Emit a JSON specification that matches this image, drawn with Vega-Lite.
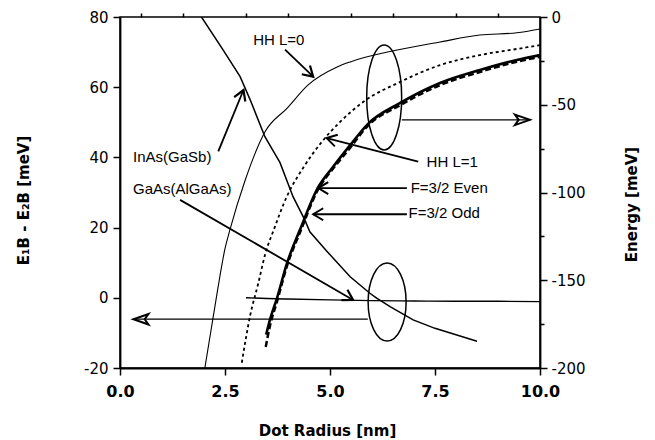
{
  "$schema": "https://vega.github.io/schema/vega-lite/v6.json",
  "width": 420,
  "height": 351,
  "autosize": {"type": "none"},
  "padding": {"left": 120, "top": 17, "right": 115, "bottom": 72},
  "background": "white",
  "config": {
    "view": {"stroke": "black", "strokeWidth": 1.5},
    "axis": {"grid": false, "domainColor": "black", "domainWidth": 1.8, "tickColor": "black", "tickWidth": 1.5, "labelColor": "black", "titleColor": "black", "labelOverlap": false, "labelBound": false, "labelFlush": false}
  },
  "datasets": {
    "diff": [
      {"series": "InAs(GaSb)", "r": 1.94, "d": 80}, {"series": "InAs(GaSb)", "r": 2.45, "d": 70.7}, {"series": "InAs(GaSb)", "r": 2.86, "d": 63}, {"series": "InAs(GaSb)", "r": 3.1, "d": 56.4}, {"series": "InAs(GaSb)", "r": 3.45, "d": 45.9}, {"series": "InAs(GaSb)", "r": 3.81, "d": 38.5}, {"series": "InAs(GaSb)", "r": 4.12, "d": 28.8}, {"series": "InAs(GaSb)", "r": 4.4, "d": 22.2}, {"series": "InAs(GaSb)", "r": 4.52, "d": 18.8}, {"series": "InAs(GaSb)", "r": 4.93, "d": 13.2}, {"series": "InAs(GaSb)", "r": 5.48, "d": 6}, {"series": "InAs(GaSb)", "r": 5.95, "d": 1.3}, {"series": "InAs(GaSb)", "r": 6.11, "d": -0.1}, {"series": "InAs(GaSb)", "r": 6.43, "d": -2.5}, {"series": "InAs(GaSb)", "r": 6.98, "d": -6.3}, {"series": "InAs(GaSb)", "r": 7.5, "d": -8.7}, {"series": "InAs(GaSb)", "r": 8.5, "d": -12.4},
      {"series": "GaAs(AlGaAs)", "r": 3.0, "d": 0}, {"series": "GaAs(AlGaAs)", "r": 3.5, "d": -0.2}, {"series": "GaAs(AlGaAs)", "r": 4, "d": -0.35}, {"series": "GaAs(AlGaAs)", "r": 5, "d": -0.6}, {"series": "GaAs(AlGaAs)", "r": 6, "d": -0.8}, {"series": "GaAs(AlGaAs)", "r": 7, "d": -0.9}, {"series": "GaAs(AlGaAs)", "r": 8, "d": -1.0}, {"series": "GaAs(AlGaAs)", "r": 9, "d": -1.0}, {"series": "GaAs(AlGaAs)", "r": 10, "d": -1.1}
    ],
    "energy": [
      {"series": "HH L=0", "r": 2.02, "E": -200}, {"series": "HH L=0", "r": 2.3, "E": -159}, {"series": "HH L=0", "r": 2.5, "E": -132}, {"series": "HH L=0", "r": 2.62, "E": -121}, {"series": "HH L=0", "r": 2.98, "E": -93}, {"series": "HH L=0", "r": 3.45, "E": -65.5}, {"series": "HH L=0", "r": 3.98, "E": -51.9}, {"series": "HH L=0", "r": 4.48, "E": -38.7}, {"series": "HH L=0", "r": 5.17, "E": -28.5}, {"series": "HH L=0", "r": 5.48, "E": -25.6}, {"series": "HH L=0", "r": 6.6, "E": -18.8}, {"series": "HH L=0", "r": 7.62, "E": -14.2}, {"series": "HH L=0", "r": 8.57, "E": -10.3}, {"series": "HH L=0", "r": 9.45, "E": -9}, {"series": "HH L=0", "r": 10, "E": -6.8},
      {"series": "HH L=1", "r": 2.9, "E": -197}, {"series": "HH L=1", "r": 3.1, "E": -170}, {"series": "HH L=1", "r": 3.29, "E": -152}, {"series": "HH L=1", "r": 3.47, "E": -134}, {"series": "HH L=1", "r": 3.65, "E": -122}, {"series": "HH L=1", "r": 3.97, "E": -102.4}, {"series": "HH L=1", "r": 4.36, "E": -86}, {"series": "HH L=1", "r": 4.81, "E": -71}, {"series": "HH L=1", "r": 5.24, "E": -59.8}, {"series": "HH L=1", "r": 5.79, "E": -48.4}, {"series": "HH L=1", "r": 6.67, "E": -37}, {"series": "HH L=1", "r": 7.62, "E": -27.4}, {"series": "HH L=1", "r": 8.57, "E": -21.7}, {"series": "HH L=1", "r": 9.45, "E": -18.2}, {"series": "HH L=1", "r": 10, "E": -16},
      {"series": "F=3/2 Even", "r": 3.48, "E": -181}, {"series": "F=3/2 Even", "r": 3.57, "E": -172.6}, {"series": "F=3/2 Even", "r": 3.74, "E": -160}, {"series": "F=3/2 Even", "r": 3.98, "E": -140}, {"series": "F=3/2 Even", "r": 4.29, "E": -121}, {"series": "F=3/2 Even", "r": 4.71, "E": -97.4}, {"series": "F=3/2 Even", "r": 5.07, "E": -85.5}, {"series": "F=3/2 Even", "r": 5.48, "E": -73}, {"series": "F=3/2 Even", "r": 5.9, "E": -61}, {"series": "F=3/2 Even", "r": 6.67, "E": -49}, {"series": "F=3/2 Even", "r": 7.62, "E": -37.6}, {"series": "F=3/2 Even", "r": 8.57, "E": -30.2}, {"series": "F=3/2 Even", "r": 9.45, "E": -24.5}, {"series": "F=3/2 Even", "r": 10, "E": -21.7},
      {"series": "F=3/2 Odd", "r": 3.47, "E": -188}, {"series": "F=3/2 Odd", "r": 3.57, "E": -176}, {"series": "F=3/2 Odd", "r": 3.74, "E": -162}, {"series": "F=3/2 Odd", "r": 3.98, "E": -141.5}, {"series": "F=3/2 Odd", "r": 4.29, "E": -122.5}, {"series": "F=3/2 Odd", "r": 4.71, "E": -98.5}, {"series": "F=3/2 Odd", "r": 5.07, "E": -86.5}, {"series": "F=3/2 Odd", "r": 5.48, "E": -74.5}, {"series": "F=3/2 Odd", "r": 5.9, "E": -62}, {"series": "F=3/2 Odd", "r": 6.67, "E": -50.3}, {"series": "F=3/2 Odd", "r": 7.62, "E": -38.8}, {"series": "F=3/2 Odd", "r": 8.57, "E": -31.3}, {"series": "F=3/2 Odd", "r": 9.45, "E": -25.5}, {"series": "F=3/2 Odd", "r": 10, "E": -22.7}
    ],
    "notes": [
      {"label": "HH L=0", "x": 3.17, "y": 73.5},
      {"label": "InAs(GaSb)", "x": 0.31, "y": 40.2},
      {"label": "GaAs(AlGaAs)", "x": 0.31, "y": 31.0},
      {"label": "HH L=1", "x": 7.3, "y": 38.7},
      {"label": "F=3/2  Even", "x": 6.92, "y": 31.3},
      {"label": "F=3/2  Odd", "x": 6.87, "y": 24.2}
    ],
    "arrows": [
      {"id": "hh0", "x": 3.93, "y": 70.7, "x2": 4.6, "y2": 63.0},
      {"id": "inas", "x": 2.34, "y": 41.7, "x2": 2.94, "y2": 59.2},
      {"id": "gaas", "x": 1.43, "y": 27.9, "x2": 5.55, "y2": -0.6},
      {"id": "hh1", "x": 7.1, "y": 38.8, "x2": 4.92, "y2": 45.5},
      {"id": "even", "x": 6.83, "y": 31.25, "x2": 4.72, "y2": 31.25},
      {"id": "odd", "x": 6.83, "y": 23.8, "x2": 4.6, "y2": 23.8},
      {"id": "up", "x": 6.71, "y": 50.7, "x2": 9.76, "y2": 50.7},
      {"id": "down", "x": 5.9, "y": -6.1, "x2": 0.32, "y2": -6.1}
    ],
    "ellipses": [
      {"id": "upper", "x": 6.29, "y": 57.1},
      {"id": "lower", "x": 6.36, "y": -1.2}
    ]
  },
  "resolve": {"scale": {"y": "independent"}, "axis": {"x": "independent"}},
  "layer": [
    {
      "layer": [
        {
          "data": {"name": "diff"},
          "transform": [{"filter": "datum.series === 'InAs(GaSb)'"}],
          "mark": {"type": "line", "color": "black", "strokeWidth": 1.5, "clip": true},
          "encoding": {
            "x": {"field": "r", "type": "quantitative", "scale": {"domain": [0, 10], "nice": false},
              "axis": {"values": [0, 2.5, 5, 7.5, 10],
                "format": ".1f",
                "tickSize": 7,
                "labelFont": "DejaVu Sans", "labelFontWeight": "bold", "labelFontSize": 16, "labelPadding": 8,
                "title": "Dot  Radius  [nm]", "titleFont": "DejaVu Sans", "titleFontWeight": "bold", "titleFontSize": 15,
                "titleX": 207, "titleY": 62, "titleAlign": "center", "titleBaseline": "middle"}},
            "y": {"field": "d", "type": "quantitative", "scale": {"domain": [-20, 80], "nice": false},
              "axis": {"orient": "left", "values": [-20, -10, 0, 10, 20, 30, 40, 50, 60, 70, 80],
                "labelExpr": "datum.value % 20 === 0 ? '' + datum.value : ''",
                "tickSize": {"condition": {"test": "datum.value % 20 === 0", "value": 7}, "value": 4},
                "labelFont": "DejaVu Sans", "labelFontSize": 15, "labelPadding": 5,
                "title": "E₁B - E₂B   [meV]", "titleFont": "DejaVu Sans", "titleFontWeight": "bold", "titleFontSize": 15,
                "titleAngle": 270, "titleX": -97, "titleY": 183, "titleAlign": "center", "titleBaseline": "middle"}}
          }
        },
        {
          "data": {"name": "diff"},
          "transform": [{"filter": "datum.series === 'GaAs(AlGaAs)'"}],
          "mark": {"type": "line", "color": "black", "strokeWidth": 1.4, "clip": true, "interpolate": "monotone"},
          "encoding": {
            "x": {"field": "r", "type": "quantitative", "scale": {"domain": [0, 10], "nice": false}},
            "y": {"field": "d", "type": "quantitative", "scale": {"domain": [-20, 80], "nice": false}}
          }
        },
        {
          "mark": {"type": "rule", "color": "black", "strokeWidth": 1.3, "strokeDash": [7, 4]},
          "encoding": {"y": {"datum": 0, "type": "quantitative", "scale": {"domain": [-20, 80], "nice": false}}}
        },
        {
          "data": {"name": "notes"},
          "mark": {"type": "text", "align": "left", "baseline": "middle", "font": "Liberation Sans", "fontSize": 15, "color": "black"},
          "encoding": {
            "x": {"field": "x", "type": "quantitative", "scale": {"domain": [0, 10], "nice": false}},
            "y": {"field": "y", "type": "quantitative", "scale": {"domain": [-20, 80], "nice": false}},
            "text": {"field": "label"}
          }
        },
        {
          "data": {"name": "arrows"},
          "transform": [{"filter": "datum.id !== 'up' && datum.id !== 'down'"}],
          "mark": {"type": "rule", "color": "black", "strokeWidth": 1.8},
          "encoding": {
            "x": {"field": "x", "type": "quantitative", "scale": {"domain": [0, 10], "nice": false}},
            "y": {"field": "y", "type": "quantitative", "scale": {"domain": [-20, 80], "nice": false}},
            "x2": {"field": "x2"},
            "y2": {"field": "y2"}
          }
        },
        {
          "data": {"name": "arrows"},
          "transform": [{"filter": "datum.id === 'up' || datum.id === 'down'"}],
          "mark": {"type": "rule", "color": "black", "strokeWidth": 1.3},
          "encoding": {
            "x": {"field": "x", "type": "quantitative", "scale": {"domain": [0, 10], "nice": false}},
            "y": {"field": "y", "type": "quantitative", "scale": {"domain": [-20, 80], "nice": false}},
            "x2": {"field": "x2"},
            "y2": {"field": "y2"}
          }
        },
        {
          "data": {"name": "arrows"},
          "transform": [{"filter": "datum.id === 'even' || datum.id === 'odd'"}],
          "mark": {"type": "point", "shape": "M-1,-0.6L0,0L-1,0.6", "size": 400, "filled": false, "stroke": "black", "strokeWidth": 2, "angle": 180, "opacity": 1},
          "encoding": {
            "x": {"field": "x2", "type": "quantitative", "scale": {"domain": [0, 10], "nice": false}},
            "y": {"field": "y2", "type": "quantitative", "scale": {"domain": [-20, 80], "nice": false}}
          }
        },
        {
          "data": {"name": "arrows"},
          "transform": [{"filter": "datum.id === 'hh0'"}],
          "mark": {"type": "point", "shape": "M-1,-0.6L0,0L-1,0.6", "size": 400, "filled": false, "stroke": "black", "strokeWidth": 2.2, "angle": 43, "opacity": 1},
          "encoding": {
            "x": {"field": "x2", "type": "quantitative", "scale": {"domain": [0, 10], "nice": false}},
            "y": {"field": "y2", "type": "quantitative", "scale": {"domain": [-20, 80], "nice": false}}
          }
        },
        {
          "data": {"name": "arrows"},
          "transform": [{"filter": "datum.id === 'inas'"}],
          "mark": {"type": "point", "shape": "M-1,-0.6L0,0L-1,0.6", "size": 400, "filled": false, "stroke": "black", "strokeWidth": 2.2, "angle": 292, "opacity": 1},
          "encoding": {
            "x": {"field": "x2", "type": "quantitative", "scale": {"domain": [0, 10], "nice": false}},
            "y": {"field": "y2", "type": "quantitative", "scale": {"domain": [-20, 80], "nice": false}}
          }
        },
        {
          "data": {"name": "arrows"},
          "transform": [{"filter": "datum.id === 'gaas'"}],
          "mark": {"type": "point", "shape": "M-1,-0.6L0,0L-1,0.6", "size": 400, "filled": false, "stroke": "black", "strokeWidth": 2.2, "angle": 30, "opacity": 1},
          "encoding": {
            "x": {"field": "x2", "type": "quantitative", "scale": {"domain": [0, 10], "nice": false}},
            "y": {"field": "y2", "type": "quantitative", "scale": {"domain": [-20, 80], "nice": false}}
          }
        },
        {
          "data": {"name": "arrows"},
          "transform": [{"filter": "datum.id === 'hh1'"}],
          "mark": {"type": "point", "shape": "M-1,-0.6L0,0L-1,0.6", "size": 400, "filled": false, "stroke": "black", "strokeWidth": 2, "angle": 194, "opacity": 1},
          "encoding": {
            "x": {"field": "x2", "type": "quantitative", "scale": {"domain": [0, 10], "nice": false}},
            "y": {"field": "y2", "type": "quantitative", "scale": {"domain": [-20, 80], "nice": false}}
          }
        },
        {
          "data": {"name": "arrows"},
          "transform": [{"filter": "datum.id === 'up'"}],
          "mark": {"type": "point", "shape": "M-1,-0.35L0,0L-1,0.35L-0.75,0Z", "size": 900, "filled": false, "stroke": "black", "strokeWidth": 2, "angle": 0, "opacity": 1},
          "encoding": {
            "x": {"field": "x2", "type": "quantitative", "scale": {"domain": [0, 10], "nice": false}},
            "y": {"field": "y2", "type": "quantitative", "scale": {"domain": [-20, 80], "nice": false}}
          }
        },
        {
          "data": {"name": "arrows"},
          "transform": [{"filter": "datum.id === 'down'"}],
          "mark": {"type": "point", "shape": "M-1,-0.35L0,0L-1,0.35L-0.75,0Z", "size": 900, "filled": false, "stroke": "black", "strokeWidth": 2, "angle": 180, "opacity": 1},
          "encoding": {
            "x": {"field": "x2", "type": "quantitative", "scale": {"domain": [0, 10], "nice": false}},
            "y": {"field": "y2", "type": "quantitative", "scale": {"domain": [-20, 80], "nice": false}}
          }
        },
        {
          "data": {"name": "ellipses"},
          "transform": [{"filter": "datum.id === 'upper'"}],
          "mark": {"type": "point", "shape": "M0,-1A0.333,1 0 1,1 0,1A0.333,1 0 1,1 0,-1Z", "size": 11025, "filled": false, "stroke": "black", "strokeWidth": 1.5, "opacity": 1},
          "encoding": {
            "x": {"field": "x", "type": "quantitative", "scale": {"domain": [0, 10], "nice": false}},
            "y": {"field": "y", "type": "quantitative", "scale": {"domain": [-20, 80], "nice": false}}
          }
        },
        {
          "data": {"name": "ellipses"},
          "transform": [{"filter": "datum.id === 'lower'"}],
          "mark": {"type": "point", "shape": "M0,-1A0.487,1 0 1,1 0,1A0.487,1 0 1,1 0,-1Z", "size": 6084, "filled": false, "stroke": "black", "strokeWidth": 1.5, "opacity": 1},
          "encoding": {
            "x": {"field": "x", "type": "quantitative", "scale": {"domain": [0, 10], "nice": false}},
            "y": {"field": "y", "type": "quantitative", "scale": {"domain": [-20, 80], "nice": false}}
          }
        }
      ]
    },
    {
      "layer": [
        {
          "data": {"name": "energy"},
          "transform": [{"filter": "datum.series === 'HH L=0'"}],
          "mark": {"type": "line", "color": "black", "strokeWidth": 1.1, "clip": true, "interpolate": "monotone"},
          "encoding": {
            "x": {"field": "r", "type": "quantitative", "scale": {"domain": [0, 10], "nice": false},
              "axis": {"values": [0.5, 1, 1.5, 2, 3, 3.5, 4, 4.5, 5.5, 6, 6.5, 7, 8, 8.5, 9, 9.5],
                "labels": false, "domain": false, "title": null, "tickSize": 4}},
            "y": {"field": "E", "type": "quantitative", "scale": {"domain": [-200, 0], "nice": false},
              "axis": {"orient": "right", "values": [-200, -175, -150, -125, -100, -75, -50, -25, 0],
                "labelExpr": "datum.value % 50 === 0 ? '' + datum.value : ''",
                "tickSize": {"condition": {"test": "datum.value % 50 === 0", "value": 7}, "value": 4},
                "labelFont": "DejaVu Sans", "labelFontSize": 15, "labelPadding": 4,
                "title": "Energy  [meV]", "titleFont": "DejaVu Sans", "titleFontWeight": "bold", "titleFontSize": 15,
                "titleAngle": 270, "titleX": 91, "titleY": 187, "titleAlign": "center", "titleBaseline": "middle"}}
          }
        },
        {
          "data": {"name": "energy"},
          "transform": [{"filter": "datum.series === 'HH L=1'"}],
          "mark": {"type": "line", "color": "black", "strokeWidth": 1.8, "strokeDash": [3, 3], "clip": true, "interpolate": "monotone"},
          "encoding": {
            "x": {"field": "r", "type": "quantitative", "scale": {"domain": [0, 10], "nice": false}},
            "y": {"field": "E", "type": "quantitative", "scale": {"domain": [-200, 0], "nice": false}}
          }
        },
        {
          "data": {"name": "energy"},
          "transform": [{"filter": "datum.series === 'F=3/2 Odd'"}],
          "mark": {"type": "line", "color": "black", "strokeWidth": 2.5, "strokeDash": [6, 3], "clip": true, "interpolate": "monotone"},
          "encoding": {
            "x": {"field": "r", "type": "quantitative", "scale": {"domain": [0, 10], "nice": false}},
            "y": {"field": "E", "type": "quantitative", "scale": {"domain": [-200, 0], "nice": false}}
          }
        },
        {
          "data": {"name": "energy"},
          "transform": [{"filter": "datum.series === 'F=3/2 Even'"}],
          "mark": {"type": "line", "color": "black", "strokeWidth": 2.6, "clip": true, "interpolate": "monotone"},
          "encoding": {
            "x": {"field": "r", "type": "quantitative", "scale": {"domain": [0, 10], "nice": false}},
            "y": {"field": "E", "type": "quantitative", "scale": {"domain": [-200, 0], "nice": false}}
          }
        }
      ]
    }
  ]
}
